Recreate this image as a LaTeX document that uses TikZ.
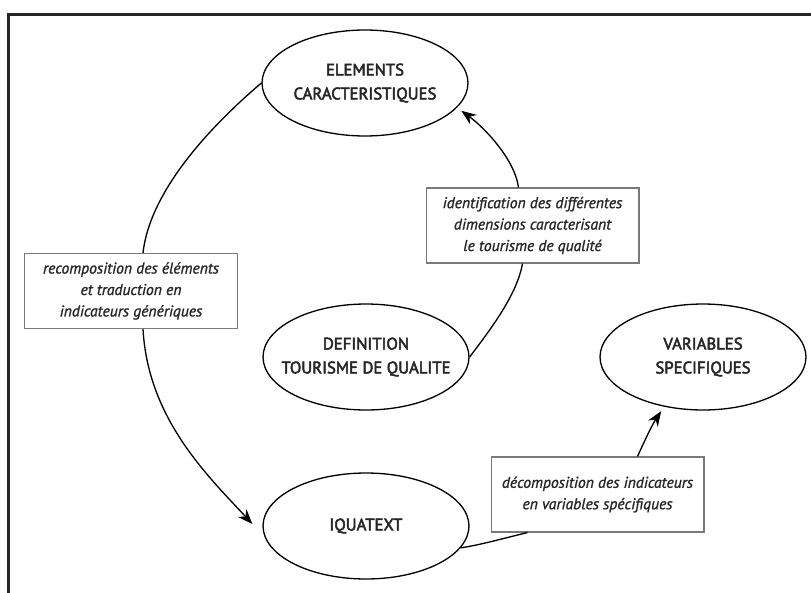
\documentclass[tikz,border=0pt]{standalone}
\usepackage{fontspec}
\setmainfont{PT Sans}
\newfontfamily\stagefont{PT Sans}[FakeBold=3]
\newfontfamily\notefont{PT Sans Italic}[FakeBold=1.2]
\usepackage{xcolor}
\usetikzlibrary{shapes.geometric,arrows.meta,calc}
\definecolor{ink}{HTML}{262626}
\definecolor{rim}{HTML}{7A7A7A}
\tikzset{
  stage/.style={ellipse, draw=black, line width=0.75pt, minimum width=4.12cm, minimum height=2.12cm, inner xsep=-18pt, inner ysep=0pt, align=center, text=ink, font=\stagefont\fontsize{9.5}{13.6}\selectfont},
  note/.style={rectangle, draw=rim, line width=0.6pt, fill=white, minimum width=4.26cm, minimum height=1.5cm, inner sep=2pt, align=center, text=ink, font=\notefont\fontsize{8.9}{12.2}\selectfont},
  link/.style={line width=0.75pt},
  flow/.style={-{Stealth[length=3mm, width=2.3mm]}, line width=0.75pt}
}

\begin{document}
\begin{tikzpicture}[x=0.02cm, y=0.02cm]
\useasboundingbox (0,0) rectangle (811,-592);
\clip (0,0) rectangle (811,-592);
\draw[line width=1.7pt, draw=ink] (8.5,-14.5) rectangle (840,-620);
\node[stage] (elem) at (365,-83) {ELEMENTS\\CARACTERISTIQUES};
\node[stage] (defn) at (366,-357) {DEFINITION\\TOURISME DE QUALITE};
\node[stage] (iqua) at (366,-526) {IQUATEXT};
\node[stage] (vari) at (703,-357) {VARIABLES\\SPECIFIQUES};
\node[note] (rec) at (131,-291) {recomposition des éléments\\et traduction en\\indicateurs génériques};
\node[note] (ident) at (532.5,-225.5) {identification des différentes\\dimensions caracterisant\\le tourisme de qualité};
\node[note] (dec) at (597.5,-494.5) {décomposition des indicateurs\\en variables spécifiques};
\draw[link] (elem.west) .. controls (212,-125) and (150,-190) .. ($(rec.north)+(12,0)$);
\draw[flow] ($(rec.south)+(12,0)$) .. controls (148,-419) and (208,-476) .. ($(iqua.west)+(-10,2)$);
\draw[link] (defn.east) .. controls (490,-330) and (517,-295) .. ($(ident.south)+(-10,0)$);
\draw[flow, shorten >=3pt] ($(ident.north)+(-14,0)$) .. controls (515,-160) and (485,-128) .. (elem.-15);
\draw[link] (iqua.-13) .. controls (480,-545) and (505,-538) .. ($(dec.south)+(-70,0)$);
\draw[flow, shorten >=3pt] ($(dec.north)+(40,0)$) .. controls (645,-440) and (652,-425) .. (vari.-128);
\end{tikzpicture}
\end{document}
